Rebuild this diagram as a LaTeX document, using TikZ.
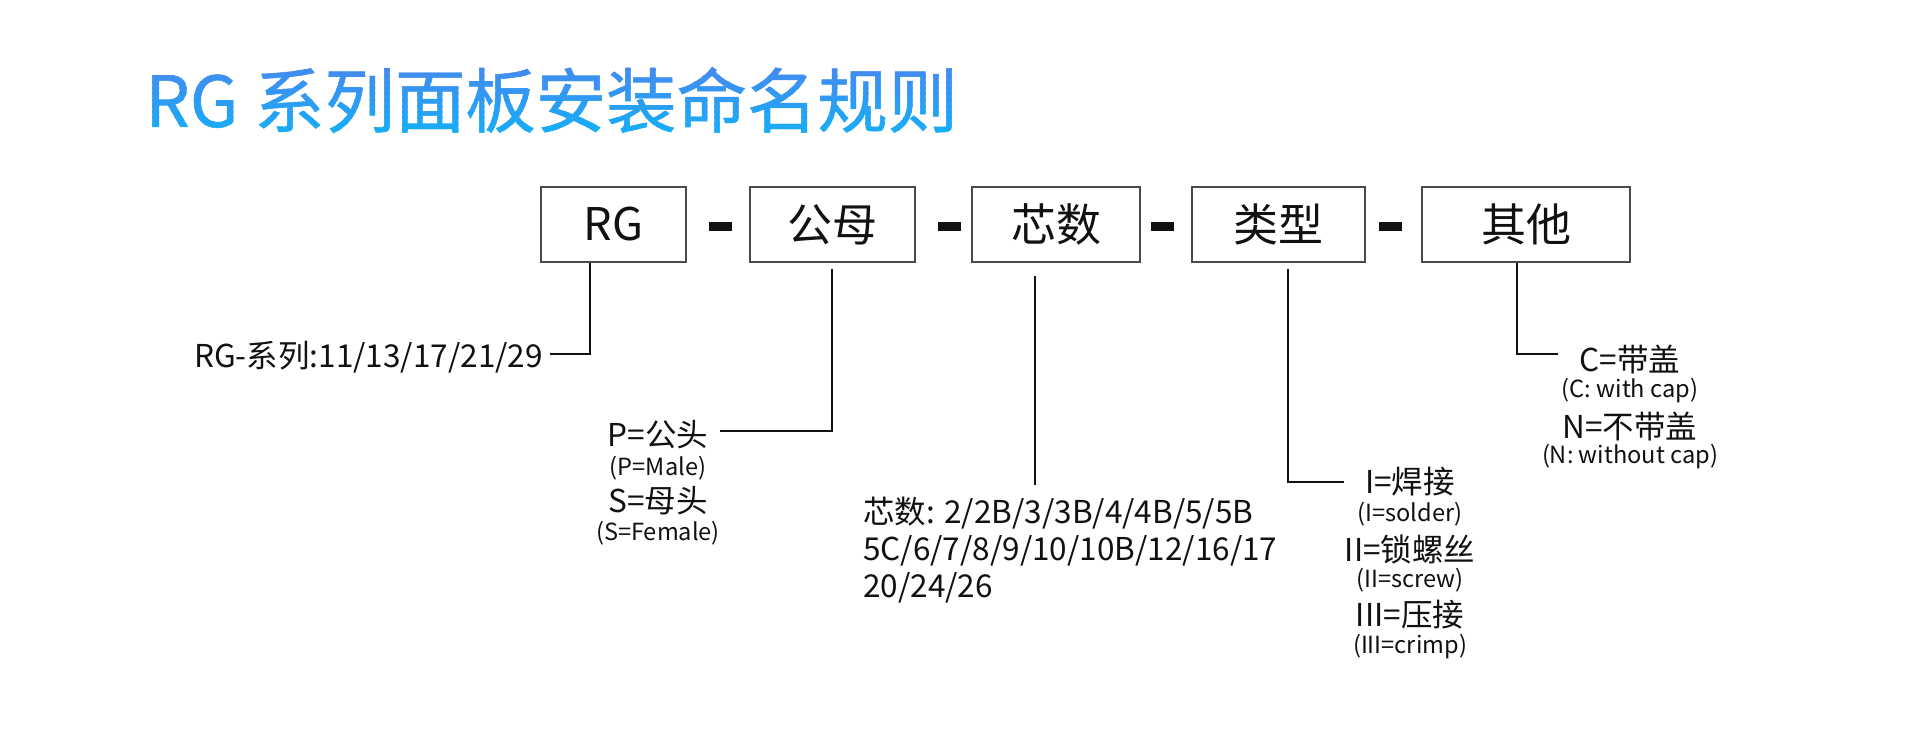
\documentclass[tikz,border=0pt]{standalone}
\usepackage{fontspec}
\setmainfont{Noto Sans CJK SC}
\newfontfamily\titlefamily[FakeBold=0.7]{Noto Sans CJK SC}
\definecolor{titletop}{HTML}{4886EE}
\definecolor{titlebot}{HTML}{14B0F8}
\definecolor{boxline}{HTML}{4A4A4A}
\definecolor{inktext}{HTML}{111111}
\newcommand\mytitletext{RG 系列面板安装命名规则}
\newcommand\titlefontsel{\titlefamily\fontsize{70.4}{80}\selectfont}

\begin{document}
\begin{tikzpicture}[x=1pt,y=1pt,
  partbox/.style={draw=boxline, line width=2pt, minimum height=75pt, inner sep=0pt,
                  text=inktext, font=\fontsize{45}{50}\selectfont},
  dashbar/.style={fill=inktext, draw=none, minimum width=23pt, minimum height=9pt, inner sep=0pt},
  conn/.style={draw=inktext, line width=2pt},
  biglab/.style={inner sep=0pt, text=inktext, font=\fontsize{31.5}{36}\selectfont},
  smalllab/.style={inner sep=0pt, text=inktext, font=\fontsize{23.6}{27}\selectfont}]
\useasboundingbox[fill=white] (0,0) rectangle (1920,-735);

% title with vertical gradient (stacked colour bands)
\foreach \i in {0,...,13}{
  \pgfmathsetmacro\ytop{-58-6*\i}
  \pgfmathsetmacro\pct{100*\i/13}
  \begin{scope}
    \clip (100,\ytop) rectangle (1000,\ytop-6.6);
    \node[anchor=base west, inner sep=0pt, font=\titlefontsel, text=titlebot!\pct!titletop]
      (title\i) at (145,-127) {\mytitletext};
  \end{scope}
}

% boxes
\node[partbox, minimum width=145pt] (b1) at (613.5,-224.5) {RG};
\node[partbox, minimum width=165pt] (b2) at (832.5,-224.5) {公母};
\node[partbox, minimum width=168pt] (b3) at (1056,-224.5) {芯数};
\node[partbox, minimum width=173pt] (b4) at (1278.5,-224.5) {类型};
\node[partbox, minimum width=208pt] (b5) at (1526,-224.5) {其他};

% separators
\node[dashbar] (d1) at (720.5,-226.5) {};
\node[dashbar] (d2) at (949,-226.5) {};
\node[dashbar] (d3) at (1162.5,-226.5) {};
\node[dashbar] (d4) at (1390,-226.5) {};

% RG labels
\node[biglab, anchor=east] (l1) at (543,-357) {RG-系列:11/13/17/21/29};
\coordinate (e1) at (550,-354);
\draw[conn] (b1.south -| 590,0) |- (e1);

% 公母 labels
\node[biglab] (p1) at (658,-435) {P=公头};
\node[smalllab] (p2) at (658,-468) {(P=Male)};
\node[biglab] (p3) at (658,-501) {S=母头};
\node[smalllab] (p4) at (658,-533) {(S=Female)};
\coordinate (e2) at (720,-431);
\draw[conn] ([yshift=-6pt]b2.south -| 832,0) |- (e2);

% 芯数 labels
\node[biglab, anchor=base west] (x1) at (863,-523) {芯数: 2/2B/3/3B/4/4B/5/5B};
\node[biglab, anchor=base west] (x2) at (863,-560) {5C/6/7/8/9/10/10B/12/16/17};
\node[biglab, anchor=base west] (x3) at (863,-597) {20/24/26};
\coordinate (e3) at (1035,-485);
\draw[conn] ([yshift=-13pt]b3.south -| e3) -- (e3);

% 类型 labels
\node[biglab] (t1) at (1410,-481.5) {I=焊接};
\node[smalllab] (t2) at (1410,-514) {(I=solder)};
\node[biglab] (t3) at (1410,-549) {II=锁螺丝};
\node[smalllab] (t4) at (1410,-580) {(II=screw)};
\node[biglab] (t5) at (1410,-615) {III=压接};
\node[smalllab] (t6) at (1410,-647) {(III=crimp)};
\coordinate (e4) at (1344,-482);
\draw[conn] ([yshift=-6pt]b4.south -| 1288,0) |- (e4);

% 其他 labels
\node[biglab] (c1) at (1630,-359) {C=带盖};
\node[smalllab] (c2) at (1630,-391) {(C: with cap)};
\node[biglab] (c3) at (1630,-426) {N=不带盖};
\node[smalllab] (c4) at (1630,-457) {(N: without cap)};
\coordinate (e5) at (1558,-354);
\draw[conn] (b5.south -| 1517,0) |- (e5);
\end{tikzpicture}
\end{document}
